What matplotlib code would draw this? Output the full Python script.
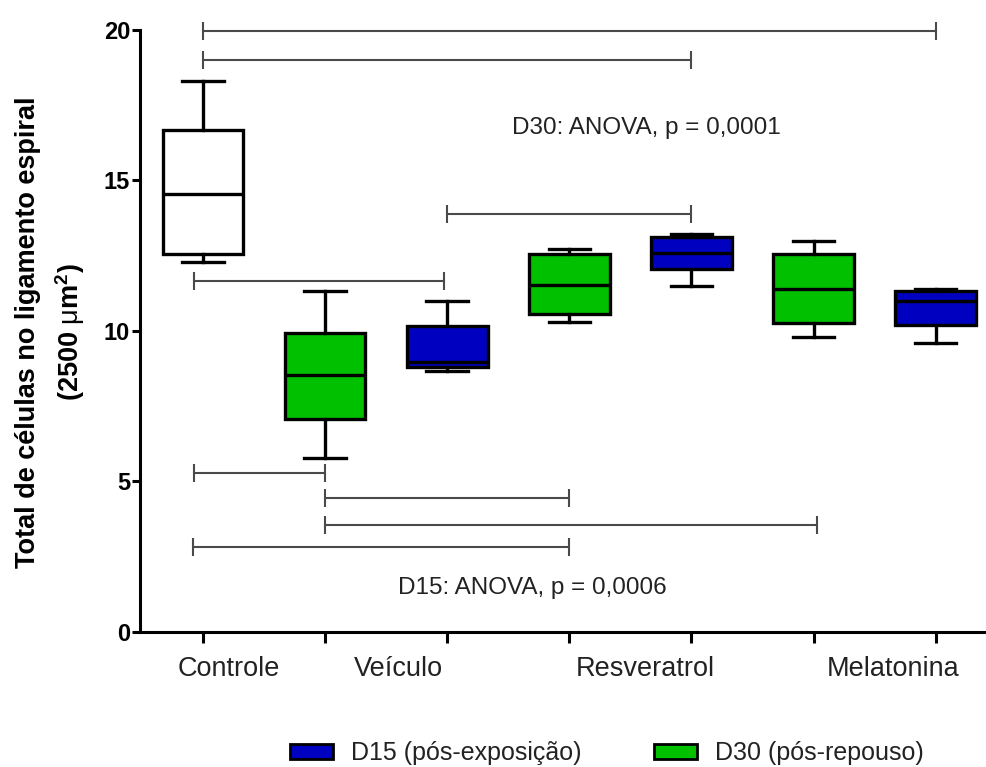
import numpy as np
import matplotlib
matplotlib.use('Agg')
import matplotlib.pyplot as plt
from matplotlib.patches import Patch

plt.rcParams['font.family'] = ['Liberation Sans', 'DejaVu Sans']
plt.rcParams['mathtext.fontset'] = 'custom'
plt.rcParams['mathtext.rm'] = 'Liberation Sans'
plt.rcParams['mathtext.it'] = 'Liberation Sans:italic'
plt.rcParams['mathtext.bf'] = 'Liberation Sans:bold'

# Box summaries (Controle, then D30/D15 pairs)
groups = ['Controle', 'Veículo D30', 'Veículo D15', 'Resveratrol D30',
          'Resveratrol D15', 'Melatonina D30', 'Melatonina D15']
whislo = [12.30, 5.78, 8.68, 10.29, 11.50, 9.79, 9.60]
q1 = [12.56, 7.08, 8.79, 10.56, 12.05, 10.28, 10.21]
med = [14.55, 8.54, 8.98, 11.52, 12.60, 11.40, 11.00]
q3 = [16.68, 9.94, 10.18, 12.55, 13.12, 12.55, 11.34]
whishi = [18.31, 11.34, 11.00, 12.71, 13.22, 12.99, 11.40]
box_colors = ['white', '#00c000', '#0000c0', '#00c000', '#0000c0',
              '#00c000', '#0000c0']

# Category labels and where they sit along x
cat_labels = ['Controle', 'Veículo', 'Resveratrol', 'Melatonina']
cat_pos = [0.21, 1.60, 3.62, 5.655]

# Significance brackets (start, end, height)
br_x0 = [0, 0, 2, -0.07, -0.07, 1, 1, -0.08]
br_x1 = [6, 4, 4, 1.97, 1, 3, 5.03, 3]
br_y = [19.95, 19.0, 13.9, 11.66, 5.27, 4.45, 3.55, 2.83]

fig = plt.figure(figsize=(9.87, 7.67), dpi=100)
ax = fig.add_axes([0.1418, 0.176, 0.8582, 0.785])

stats = [dict(label=g, whislo=a, q1=b, med=c, q3=d, whishi=e)
         for g, a, b, c, d, e in zip(groups, whislo, q1, med, q3, whishi)]
pos = np.arange(len(groups))
lw = 2.4
bp = ax.bxp(stats, positions=pos, widths=0.66, capwidths=0.34,
            showfliers=False, patch_artist=True,
            boxprops=dict(linewidth=lw, edgecolor='black'),
            medianprops=dict(linewidth=lw, color='black'),
            whiskerprops=dict(linewidth=lw, color='black'),
            capprops=dict(linewidth=lw, color='black'))
for patch, c in zip(bp['boxes'], box_colors):
    patch.set_facecolor(c)

# brackets
cap = 0.3
gray = '#4a4a4a'
for x0, x1, y in zip(br_x0, br_x1, br_y):
    ax.plot([x0, x1], [y, y], color=gray, lw=1.5, clip_on=False)
    ax.vlines([x0, x1], y - cap, y + cap, color=gray, lw=1.5, clip_on=False)

ax.text(3.63, 16.74, 'D30: ANOVA, p = 0,0001', ha='center', va='center',
        fontsize=17.5, color='#222222')
ax.text(2.70, 1.46, 'D15: ANOVA, p = 0,0006', ha='center', va='center',
        fontsize=17.5, color='#222222')

ax.set_xlim(-0.516, 6.42)
ax.set_ylim(0, 20)
ax.spines['top'].set_visible(False)
ax.spines['right'].set_visible(False)
ax.spines['left'].set_linewidth(2.2)
ax.spines['bottom'].set_linewidth(2.2)

ax.set_yticks([0, 5, 10, 15, 20])
ax.set_yticklabels(['0', '5', '10', '15', '20'], fontsize=17, fontweight='bold')
ax.tick_params(axis='y', length=6, width=2.2, pad=1)

ax.set_xticks(pos)
ax.set_xticklabels([''] * len(pos))
ax.tick_params(axis='x', which='major', length=8, width=2.2)
ax.set_xticks(cat_pos, minor=True)
ax.set_xticklabels(cat_labels, minor=True, fontsize=19.5, color='#222222')
ax.tick_params(axis='x', which='minor', length=0, pad=17)

# y label as two separate lines
fig.text(0.028, 0.567, 'Total de células no ligamento espiral', rotation=90,
         ha='center', va='center', fontsize=19.5, fontweight='bold')
fig.text(0.071, 0.567, '(2500 $\\mathrm{\\mu}$m$^{\\mathbf{2}}$)', rotation=90,
         ha='center', va='center', fontsize=19.5, fontweight='bold')

handles = [Patch(facecolor='#0000c0', edgecolor='black', linewidth=2,
                 label='D15 (pós-exposição)'),
           Patch(facecolor='#00c000', edgecolor='black', linewidth=2,
                 label='D30 (pós-repouso)')]
fig.legend(handles=handles, loc='center', bbox_to_anchor=(0.615, 0.018),
           ncol=2, frameon=False, fontsize=18, handlelength=1.72,
           handleheight=0.56, handletextpad=0.72, columnspacing=2.9,
           labelcolor='#222222')

fig.savefig('out.png', dpi=100)
